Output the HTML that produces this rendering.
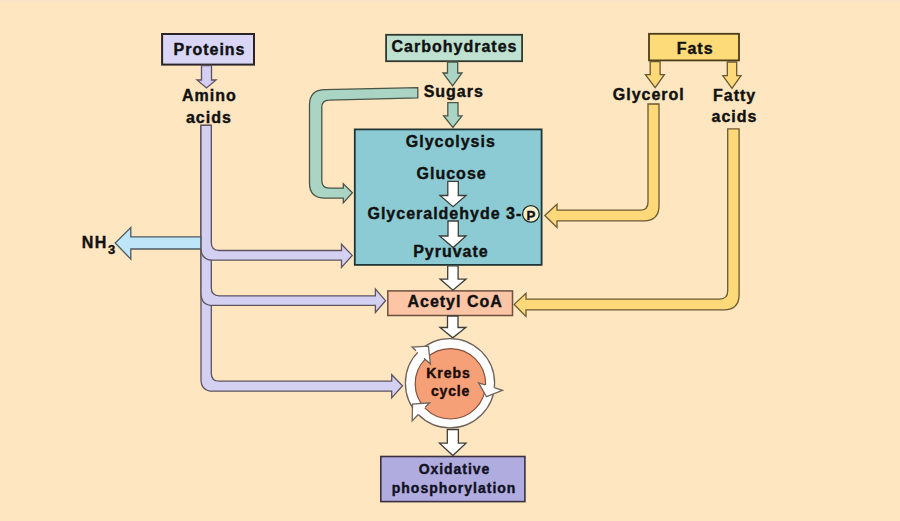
<!DOCTYPE html>
<html><head><meta charset="utf-8"><style>
html,body{margin:0;padding:0;width:900px;height:521px;overflow:hidden;background:#FEE6C0;}
svg{display:block}
</style></head><body>
<svg width="900" height="521" viewBox="0 0 900 521">
<rect x="0" y="0" width="900" height="521" fill="#FEE6C0"/>
<rect x="0" y="0" width="900" height="3" fill="#FBE3C6"/>
<path d="M201,125.3 L201,379.2 Q201,391.2 213,391.2 L391.7,391.2 L391.7,397.9 L402.5,385.8 L391.7,374.7 L391.7,381.2 L219.3,381.2 Q211.3,381.2 211.3,373.2 L211.3,125.3 Z" fill="#D4D0F2" stroke="#5e5360" stroke-width="1.3" stroke-linejoin="miter"/>
<path d="M201,125.3 L201,293.4 Q201,305.4 213,305.4 L375.4,305.4 L375.4,312.5 L385.5,300.7 L375.4,289 L375.4,295.8 L219.3,295.8 Q211.3,295.8 211.3,287.8 L211.3,125.3 Z" fill="#D4D0F2" stroke="#5e5360" stroke-width="1.3" stroke-linejoin="miter"/>
<path d="M201,125.3 L201,248.2 Q201,260.2 213,260.2 L341.5,260.2 L341.5,267.4 L352.2,255.4 L341.5,244.2 L341.5,250.5 L219.3,250.5 Q211.3,250.5 211.3,242.5 L211.3,125.3 Z" fill="#D4D0F2" stroke="#5e5360" stroke-width="1.3" stroke-linejoin="miter"/>
<polygon points="200.8,236.9 130.8,236.9 130.8,227.6 115.2,243 130.8,259.1 130.8,249 200.8,249" fill="#BFE5F8" stroke="#4f5a60" stroke-width="1.3" stroke-linejoin="miter"/>
<path d="M417.8,87.7 L325,89.6 Q309.5,89.6 309.5,105 L309.5,183 Q309.5,198.2 325,198.2 L343.3,198.2 L343.3,202.9 L352.4,192.8 L343.3,183.7 L343.3,188.1 L329.5,188.1 Q321.8,188.1 321.8,180.5 L321.8,107.5 Q321.8,100.1 329,100.1 L417.8,97.9 Z" fill="#AAD5C4" stroke="#4a5548" stroke-width="1.3"/>
<path d="M648,104 L659,104 L659,205.8 Q659,220.8 644,220.8 L557,220.8 L557,227.4 L544.8,215.4 L557,204.2 L557,210.2 L640,210.2 Q648,210.2 648,202.2 Z" fill="#FDD97A" stroke="#6a5a30" stroke-width="1.3"/>
<path d="M727.7,128.9 L739.1,128.9 L739.1,294.8 Q739.1,309.8 724.1,309.8 L526,309.8 L526,316.4 L514.2,304.4 L526,293.3 L526,299.1 L719.7,299.1 Q727.7,299.1 727.7,291.1 Z" fill="#FDD97A" stroke="#6a5a30" stroke-width="1.3"/>
<rect x="162.1" y="34" width="91.90" height="30.60" fill="#D9D6F6" stroke="#2a2428" stroke-width="2"/>
<rect x="386.1" y="34.8" width="136.00" height="26.40" fill="#BFE1D0" stroke="#2f3a30" stroke-width="1.8"/>
<rect x="649" y="33.8" width="90.00" height="26.60" fill="#FDDB79" stroke="#4a3e1a" stroke-width="1.8"/>
<rect x="354.8" y="129.4" width="186.80" height="135.50" fill="#8CCBD3" stroke="#1e3636" stroke-width="1.8"/>
<rect x="387.8" y="290.9" width="124.70" height="24.60" fill="#FCC5A6" stroke="#6e5040" stroke-width="1.5"/>
<rect x="380.8" y="456.5" width="144.10" height="45.10" fill="#B0ACDF" stroke="#3a3040" stroke-width="1.6"/>
<polygon points="201.5,65.5 211.5,65.5 211.5,80 216,80 206.5,88 197,80 201.5,80" fill="#D4D0F2" stroke="#5e5360" stroke-width="1.3" stroke-linejoin="miter"/>
<polygon points="447.5,62 457.7,62 457.7,73 462,73 452.6,86 443,73 447.5,73" fill="#AAD5C4" stroke="#4a5548" stroke-width="1.3" stroke-linejoin="miter"/>
<polygon points="447.8,102.7 458,102.7 458,115.8 462,115.8 452.9,127.5 443.6,115.8 447.8,115.8" fill="#AAD5C4" stroke="#4a5548" stroke-width="1.3" stroke-linejoin="miter"/>
<polygon points="650.2,61.5 660.1,61.5 660.1,74.6 664.4,74.6 655.1500000000001,87.7 645.4,74.6 650.2,74.6" fill="#FDD97A" stroke="#6a5a30" stroke-width="1.3" stroke-linejoin="miter"/>
<polygon points="727.3,62 736.7,62 736.7,75.6 741,75.6 732.0,88.3 722.8,75.6 727.3,75.6" fill="#FDD97A" stroke="#6a5a30" stroke-width="1.3" stroke-linejoin="miter"/>
<polygon points="447.8,181.3 458.3,181.3 458.3,195.5 466,195.5 453.05,206.7 440,195.5 447.8,195.5" fill="#fff" stroke="#3e3e38" stroke-width="1.3" stroke-linejoin="miter"/>
<polygon points="448,221 458.3,221 458.3,236 466,236 453.15,247.6 439.6,236 448,236" fill="#fff" stroke="#3e3e38" stroke-width="1.3" stroke-linejoin="miter"/>
<polygon points="447.7,265.8 458.1,265.8 458.1,279.1 466,279.1 452.9,290.2 440.1,279.1 447.7,279.1" fill="#fff" stroke="#3e3e38" stroke-width="1.3" stroke-linejoin="miter"/>
<polygon points="447.5,316 458,316 458,327.5 465.8,327.5 452.75,337.8 440,327.5 447.5,327.5" fill="#fff" stroke="#3e3e38" stroke-width="1.3" stroke-linejoin="miter"/>
<polygon points="447.3,429.5 458.4,429.5 458.4,443.2 466,443.2 452.85,455.5 439.5,443.2 447.3,443.2" fill="#fff" stroke="#3e3e38" stroke-width="1.3" stroke-linejoin="miter"/>
<circle cx="450" cy="383.2" r="44.6" fill="#fff" stroke="#6e645c" stroke-width="1.3"/>
<circle cx="450.4" cy="383.8" r="35.2" fill="#F6A077" stroke="#85503c" stroke-width="1.2"/>
<polygon points="412,347.1 428.4,346.2 430.4,364.1" fill="#fff" stroke="none"/><path d="M416.05,350.84 L412,347.1 L428.4,346.2 L430.4,364.1 L423.96,358.15" fill="none" stroke="#6e645c" stroke-width="1.3" stroke-linejoin="miter"/>
<polygon points="478.6,382.8 486.5,396.7 502.5,390.4" fill="#fff" stroke="none"/><path d="M485.05,384.85 L478.6,382.8 L486.5,396.7 L502.5,390.4 L494.85,387.97" fill="none" stroke="#6e645c" stroke-width="1.3" stroke-linejoin="miter"/>
<polygon points="429.6,402.8 412.5,404 412.2,420.9" fill="#fff" stroke="none"/><path d="M425.25,407.32 L429.6,402.8 L412.5,404 L412.2,420.9 L418.29,414.56" fill="none" stroke="#6e645c" stroke-width="1.3" stroke-linejoin="miter"/>
<circle cx="530.9" cy="213.9" r="8.3" fill="#F7F1C9" stroke="#1e2a28" stroke-width="1.3"/>
<text x="173.50" y="54.6" text-anchor="start" letter-spacing="1.0" font-family='"Liberation Sans", sans-serif' font-size="16" font-weight="bold" fill="#111" stroke="#111" stroke-width="0.4">Proteins</text>
<text x="391.50" y="52.2" text-anchor="start" letter-spacing="1.0" font-family='"Liberation Sans", sans-serif' font-size="16" font-weight="bold" fill="#111" stroke="#111" stroke-width="0.4">Carbohydrates</text>
<text x="676.70" y="53.5" text-anchor="start" letter-spacing="1.0" font-family='"Liberation Sans", sans-serif' font-size="16" font-weight="bold" fill="#111" stroke="#111" stroke-width="0.4">Fats</text>
<text x="182.00" y="101.1" text-anchor="start" letter-spacing="1.0" font-family='"Liberation Sans", sans-serif' font-size="16" font-weight="bold" fill="#111" stroke="#111" stroke-width="0.4">Amino</text>
<text x="185.95" y="122.6" text-anchor="start" letter-spacing="1.0" font-family='"Liberation Sans", sans-serif' font-size="16" font-weight="bold" fill="#111" stroke="#111" stroke-width="0.4">acids</text>
<text x="423.65" y="96.8" text-anchor="start" letter-spacing="1.0" font-family='"Liberation Sans", sans-serif' font-size="16" font-weight="bold" fill="#111" stroke="#111" stroke-width="0.4">Sugars</text>
<text x="612.75" y="99.8" text-anchor="start" letter-spacing="1.0" font-family='"Liberation Sans", sans-serif' font-size="16" font-weight="bold" fill="#111" stroke="#111" stroke-width="0.4">Glycerol</text>
<text x="713.00" y="100.9" text-anchor="start" letter-spacing="1.0" font-family='"Liberation Sans", sans-serif' font-size="16" font-weight="bold" fill="#111" stroke="#111" stroke-width="0.4">Fatty</text>
<text x="711.50" y="122.2" text-anchor="start" letter-spacing="1.0" font-family='"Liberation Sans", sans-serif' font-size="16" font-weight="bold" fill="#111" stroke="#111" stroke-width="0.4">acids</text>
<text x="405.75" y="146.6" text-anchor="start" letter-spacing="1.0" font-family='"Liberation Sans", sans-serif' font-size="16" font-weight="bold" fill="#111" stroke="#111" stroke-width="0.4">Glycolysis</text>
<text x="416.55" y="178.6" text-anchor="start" letter-spacing="1.0" font-family='"Liberation Sans", sans-serif' font-size="16" font-weight="bold" fill="#111" stroke="#111" stroke-width="0.4">Glucose</text>
<text x="367.45" y="219" text-anchor="start" letter-spacing="1.0" font-family='"Liberation Sans", sans-serif' font-size="16" font-weight="bold" fill="#111" stroke="#111" stroke-width="0.4">Glyceraldehyde 3-</text>
<text x="413.15" y="257.2" text-anchor="start" letter-spacing="1.0" font-family='"Liberation Sans", sans-serif' font-size="16" font-weight="bold" fill="#111" stroke="#111" stroke-width="0.4">Pyruvate</text>
<text x="407.45" y="307" text-anchor="start" letter-spacing="1.0" font-family='"Liberation Sans", sans-serif' font-size="16" font-weight="bold" fill="#111" stroke="#111" stroke-width="0.4">Acetyl CoA</text>
<text x="426.20" y="377.6" text-anchor="start" letter-spacing="1.0" font-family='"Liberation Sans", sans-serif' font-size="14" font-weight="bold" fill="#1a0c0a" stroke="#1a0c0a" stroke-width="0.4">Krebs</text>
<text x="431.00" y="395.5" text-anchor="start" letter-spacing="0.8" font-family='"Liberation Sans", sans-serif' font-size="14" font-weight="bold" fill="#1a0c0a" stroke="#1a0c0a" stroke-width="0.4">cycle</text>
<text x="418.65" y="473.9" text-anchor="start" letter-spacing="0.95" font-family='"Liberation Sans", sans-serif' font-size="14" font-weight="bold" fill="#111122" stroke="#111122" stroke-width="0.4">Oxidative</text>
<text x="391.75" y="493" text-anchor="start" letter-spacing="1.0" font-family='"Liberation Sans", sans-serif' font-size="14" font-weight="bold" fill="#111122" stroke="#111122" stroke-width="0.4">phosphorylation</text>
<text x="81.80" y="247.7" text-anchor="start" letter-spacing="1.4" font-family='"Liberation Sans", sans-serif' font-size="16" font-weight="bold" fill="#111" stroke="#111" stroke-width="0.4">NH</text>
<text x="526.6" y="220" font-family='"Liberation Sans", sans-serif' font-size="13.3" font-weight="bold" fill="#111" stroke="#111" stroke-width="0.4">P</text>
<text x="108.1" y="253.8" font-family='"Liberation Sans", sans-serif' font-size="13" font-weight="bold" fill="#111" stroke="#111" stroke-width="0.4">3</text>
</svg>
</body></html>
